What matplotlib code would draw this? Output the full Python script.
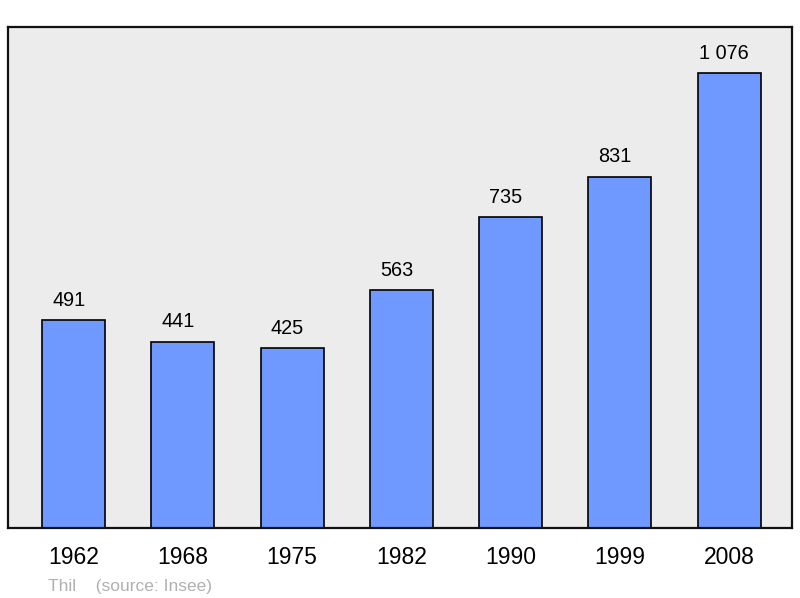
import matplotlib.pyplot as plt

plt.rcParams['font.family'] = ['Liberation Sans', 'DejaVu Sans']

years = ['1962', '1968', '1975', '1982', '1990', '1999', '2008']
population = [491, 441, 425, 563, 735, 831, 1076]
value_labels = ['491', '441', '425', '563', '735', '831', '1 076']

fig = plt.figure(figsize=(8, 5.98), dpi=100)
ax = fig.add_axes([0.0106, 0.117, 0.979, 0.838])
ax.set_facecolor('#ececec')

x = range(len(years))
bars = ax.bar(x, population, width=0.576, color='#7099ff', edgecolor='black', linewidth=1.2)

# value labels sit a bit left of the bar centre in the original
for xi, val, lab in zip(x, population, value_labels):
    ax.annotate(lab, (xi, val), xytext=(-3.5, 7.5), textcoords='offset points',
                ha='center', va='bottom', fontsize=14.3)

ax.set_xlim(-0.595, 6.572)
ax.set_ylim(0, 1185)
ax.set_xticks(list(x))
ax.set_xticklabels(years, fontsize=16.5)
ax.tick_params(axis='x', length=0, pad=13)
ax.set_yticks([])
for s in ax.spines.values():
    s.set_linewidth(1.6)
    s.set_color('#111111')

fig.text(0.06, 0.012, 'Thil    (source: Insee)', color='#b0b0b0', fontsize=12.5)

plt.savefig('out.png', dpi=100)
